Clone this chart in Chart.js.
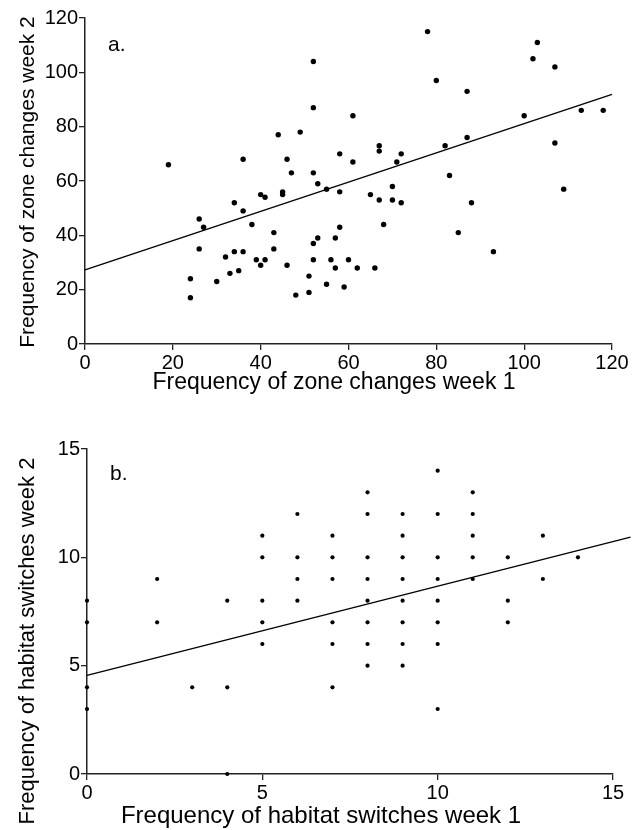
<!DOCTYPE html>
<html><head><meta charset="utf-8">
<script src="https://cdn.jsdelivr.net/npm/chart.js@4.4.0/dist/chart.umd.min.js"></script>
<style>
html,body{margin:0;padding:0;background:#fff;}
#wrap{position:relative;width:640px;height:830px;}
.box{position:absolute;left:0;width:640px;height:415px;}
canvas{display:block;}
</style></head><body>
<div id="wrap">
<div class="box" style="top:0"><canvas id="ca" width="640" height="415"></canvas></div>
<div class="box" style="top:415px"><canvas id="cb" width="640" height="415"></canvas></div>
</div>
<script>
// ---- Panel a: zone changes ----
const zoneWeek1 = [52,52,61,44,49,19,36,46,58,61,47,52,53,55,78,103,102,107,80,87,100,113,118,87,82,67,67,72,71,107,83,70,109,58,40,41,45,45,34,36,26,27,38,43,26,43,32,34,36,39,41,40,46,33,35,30,24,24,48,51,51,55,59,52,53,57,58,52,56,57,60,62,65,67,70,72,88,68,85,93,66];
const zoneWeek2 = [104,87,84,77,78,66,68,68,70,67,63,63,59,57,115,111,105,102,97,93,84,86,86,76,73,73,71,70,67,74,62,58,57,56,55,54,56,55,52,49,46,43,44,41,35,35,32,34,34,31,31,29,29,26,27,23,24,17,18,19,25,22,21,37,39,39,43,31,31,28,31,28,55,53,53,52,52,44,41,34,28];
const zoneFitX = [0, 120];
const zoneFitY = [27.3, 91.9];
const zoneTicks = [0, 20, 40, 60, 80, 100, 120];
const zoneXTitle = 'Frequency of zone changes week 1';
const zoneYTitle = 'Frequency of zone changes week 2';
const zonePanel = 'a.';

// ---- Panel b: habitat switches ----
const habitatWeek1 = [0,0,0,0, 2,2, 3, 4,4,4, 5,5,5,5,5, 6,6,6,6, 7,7,7,7,7,7, 8,8,8,8,8,8,8,8, 9,9,9,9,9,9,9,9, 10,10,10,10,10,10,10,10, 11,11,11,11,11, 12,12,12, 13,13, 14];
const habitatWeek2 = [8,7,4,3, 9,7, 4, 8,4,0, 11,10,8,7,6, 12,10,9,8, 11,10,9,7,6,4, 13,12,10,9,8,7,6,5, 12,11,10,9,8,7,6,5, 14,12,10,9,8,7,6,3, 13,12,11,10,9, 10,8,7, 11,9, 10];
const habitatFitX = [0, 15.5];
const habitatFitY = [4.55, 10.93];
const habitatTicks = [0, 5, 10, 15];
const habitatXTitle = 'Frequency of habitat switches week 1';
const habitatYTitle = 'Frequency of habitat switches week 2';
const habitatPanel = 'b.';

const FONT = "'Liberation Sans', Arial, sans-serif";
const INK = '#000';
const AXIS = '#222';

function textPlugin(t) {
  return {
    id: 'panelText',
    afterDraw(chart) {
      const ctx = chart.ctx;
      ctx.save();
      ctx.fillStyle = INK;
      ctx.font = t.panelSize + 'px ' + FONT;
      ctx.textAlign = 'left';
      ctx.textBaseline = 'alphabetic';
      ctx.fillText(t.panel, t.panelX, t.panelY);
      ctx.font = t.xSize + 'px ' + FONT;
      ctx.textAlign = 'center';
      ctx.textBaseline = 'middle';
      ctx.fillText(t.xTitle, t.xTitleX, t.xTitleY);
      ctx.translate(t.yTitleX, t.yTitleY);
      ctx.rotate(-Math.PI / 2);
      ctx.font = t.ySize + 'px ' + FONT;
      ctx.fillText(t.yTitle, 0, 0);
      ctx.restore();
    }
  };
}

function axis(min, max, tickVals, fitKey, fitVal) {
  return {
    type: 'linear', min: min, max: max,
    afterBuildTicks: s => { s.ticks = tickVals.map(v => ({ value: v })); },
    afterFit: s => { s[fitKey] = fitVal; },
    border: { display: true, color: AXIS, width: 1.5 },
    grid: { display: true, drawOnChartArea: false, drawTicks: true, tickLength: 6, color: AXIS, lineWidth: 1.3 },
    ticks: { color: INK, font: { size: 20, family: FONT }, padding: 1, maxRotation: 0, autoSkip: false },
    title: { display: false }
  };
}

function makeChart(id, xs, ys, fx, fy, lo, hi, tickVals, radius, pad, yWidth, xHeight, txt) {
  return new Chart(document.getElementById(id), {
    type: 'scatter',
    data: {
      datasets: [
        { data: xs.map((x, i) => ({ x: x, y: ys[i] })), pointRadius: radius, pointHoverRadius: radius,
          backgroundColor: INK, borderWidth: 0, clip: false },
        { data: fx.map((x, i) => ({ x: x, y: fy[i] })), showLine: true, pointRadius: 0,
          borderColor: INK, borderWidth: 1.3, fill: false, clip: false }
      ]
    },
    options: {
      responsive: false, animation: false, devicePixelRatio: 1,
      layout: { padding: pad },
      plugins: { legend: { display: false }, tooltip: { enabled: false } },
      scales: {
        x: axis(lo, hi, tickVals, 'height', xHeight),
        y: axis(lo, hi, tickVals, 'width', yWidth)
      }
    },
    plugins: [textPlugin(txt)]
  });
}

makeChart('ca', zoneWeek1, zoneWeek2, zoneFitX, zoneFitY, 0, 120, zoneTicks, 2.7,
  { top: 18, right: 28, left: 0, bottom: 0 }, 85, 71,
  { panel: zonePanel, panelSize: 21, panelX: 108, panelY: 51,
    xTitle: zoneXTitle, xSize: 23, xTitleX: 334, xTitleY: 383,
    yTitle: zoneYTitle, ySize: 21, yTitleX: 28, yTitleY: 182 });

makeChart('cb', habitatWeek1, habitatWeek2, habitatFitX, habitatFitY, 0, 15, habitatTicks, 2.1,
  { top: 34, right: 27, left: 0, bottom: 0 }, 87, 56,
  { panel: habitatPanel, panelSize: 21, panelX: 110, panelY: 65,
    xTitle: habitatXTitle, xSize: 24, xTitleX: 321, xTitleY: 401,
    yTitle: habitatYTitle, ySize: 22, yTitleX: 28, yTitleY: 226 });
</script>
</body></html>
